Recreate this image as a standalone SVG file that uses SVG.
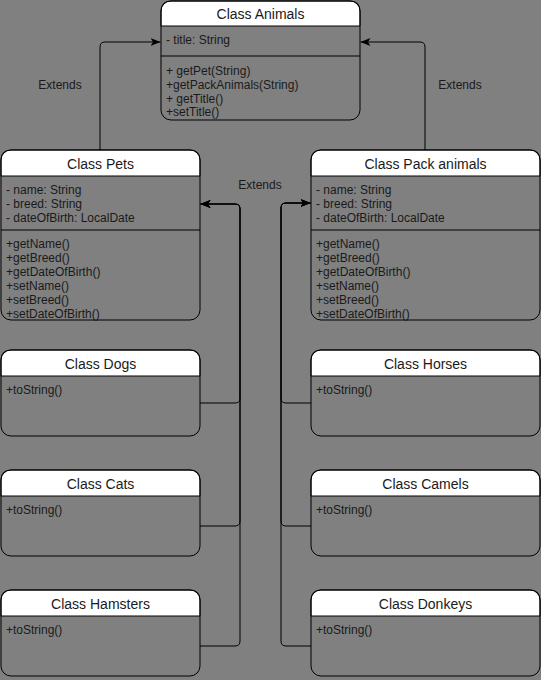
<svg xmlns="http://www.w3.org/2000/svg" width="541" height="680" viewBox="0 0 541 680">
<defs>
<style>
.box{fill:none;stroke:#000;stroke-width:1}
.hdr{fill:#fff;stroke:#000;stroke-width:1}
.sep{stroke:#000;stroke-width:1}
.ttl{font-family:"Liberation Sans",Arial,sans-serif;font-size:14px;fill:#1a1a1a;text-anchor:middle}
.txt{font-family:"Liberation Sans",Arial,sans-serif;font-size:12px;fill:#1a1a1a}
.lbl{font-family:"Liberation Sans",Arial,sans-serif;font-size:12px;fill:#1a1a1a;text-anchor:middle}
.edge{fill:none;stroke:#000;stroke-width:1;marker-end:url(#arr)}
</style>
<marker id="arr" viewBox="0 0 10 8" refX="10" refY="4" markerWidth="10" markerHeight="8" markerUnits="userSpaceOnUse" orient="auto">
<path d="M0,0 L10,4 L0,8 L2.5,4 Z" fill="#000"/>
</marker>
</defs>
<rect x="0" y="0" width="541" height="680" fill="#808080"/>

<g id="edges">
<path class="edge" d="M100,150 L100,47 Q100,42 105,42 L160.5,42"/>
<path class="edge" d="M425,150 L425,47 Q425,42 420,42 L360.5,42"/>
<path class="edge" d="M200,403 L235,403 Q240,403 240,398 L240,209 Q240,204 235,204 L200.5,204"/>
<path class="edge" d="M200,526 L235,526 Q240,526 240,521 L240,209 Q240,204 235,204 L200.5,204"/>
<path class="edge" d="M200,646 L235,646 Q240,646 240,641 L240,209 Q240,204 235,204 L200.5,204"/>
<path class="edge" d="M311,403 L286,403 Q281,403 281,398 L281,208 Q281,203 286,203 L310.5,203"/>
<path class="edge" d="M311,526 L286,526 Q281,526 281,521 L281,208 Q281,203 286,203 L310.5,203"/>
<path class="edge" d="M311,646 L286,646 Q281,646 281,641 L281,208 Q281,203 286,203 L310.5,203"/>
<text class="lbl" x="60" y="89">Extends</text>
<text class="lbl" x="460" y="89">Extends</text>
<text class="lbl" x="260" y="189">Extends</text>
</g>

<g id="animals">
<path class="hdr" d="M161,26 L161,11 Q161,1 171,1 L350,1 Q360,1 360,11 L360,26 Z"/>
<rect class="box" x="161" y="1" width="199" height="119" rx="10"/>
<line class="sep" x1="161" y1="56" x2="360" y2="56"/>
<text class="ttl" x="260.5" y="19">Class Animals</text>
<text class="txt" x="166" y="44">- title: String</text>
<text class="txt" x="166" y="75">+ getPet(String)</text>
<text class="txt" x="166" y="89">+getPackAnimals(String)</text>
<text class="txt" x="166" y="103">+ getTitle()</text>
<text class="txt" x="166" y="116">+setTitle()</text>
</g>

<g id="pets">
<path class="hdr" d="M1,176 L1,160 Q1,150 11,150 L190,150 Q200,150 200,160 L200,176 Z"/>
<rect class="box" x="1" y="150" width="199" height="170" rx="10"/>
<line class="sep" x1="1" y1="230" x2="200" y2="230"/>
<text class="ttl" x="100.5" y="169">Class Pets</text>
<text class="txt" x="6" y="194">- name: String</text>
<text class="txt" x="6" y="208">- breed: String</text>
<text class="txt" x="6" y="222">- dateOfBirth: LocalDate</text>
<text class="txt" x="6" y="248">+getName()</text>
<text class="txt" x="6" y="262">+getBreed()</text>
<text class="txt" x="6" y="276">+getDateOfBirth()</text>
<text class="txt" x="6" y="290">+setName()</text>
<text class="txt" x="6" y="304">+setBreed()</text>
<text class="txt" x="6" y="318">+setDateOfBirth()</text>
</g>

<g id="pack-animals">
<path class="hdr" d="M311,176 L311,160 Q311,150 321,150 L530,150 Q540,150 540,160 L540,176 Z"/>
<rect class="box" x="311" y="150" width="229" height="170" rx="10"/>
<line class="sep" x1="311" y1="230" x2="540" y2="230"/>
<text class="ttl" x="425.5" y="169">Class Pack animals</text>
<text class="txt" x="316" y="194">- name: String</text>
<text class="txt" x="316" y="208">- breed: String</text>
<text class="txt" x="316" y="222">- dateOfBirth: LocalDate</text>
<text class="txt" x="316" y="248">+getName()</text>
<text class="txt" x="316" y="262">+getBreed()</text>
<text class="txt" x="316" y="276">+getDateOfBirth()</text>
<text class="txt" x="316" y="290">+setName()</text>
<text class="txt" x="316" y="304">+setBreed()</text>
<text class="txt" x="316" y="318">+setDateOfBirth()</text>
</g>

<g id="dogs">
<path class="hdr" d="M1,376 L1,360 Q1,350 11,350 L190,350 Q200,350 200,360 L200,376 Z"/>
<rect class="box" x="1" y="350" width="199" height="86" rx="10"/>
<text class="ttl" x="100.5" y="369">Class Dogs</text>
<text class="txt" x="6" y="394">+toString()</text>
</g>

<g id="cats">
<path class="hdr" d="M1,496 L1,480 Q1,470 11,470 L190,470 Q200,470 200,480 L200,496 Z"/>
<rect class="box" x="1" y="470" width="199" height="86" rx="10"/>
<text class="ttl" x="100.5" y="489">Class Cats</text>
<text class="txt" x="6" y="514">+toString()</text>
</g>

<g id="hamsters">
<path class="hdr" d="M1,616 L1,600 Q1,590 11,590 L190,590 Q200,590 200,600 L200,616 Z"/>
<rect class="box" x="1" y="590" width="199" height="86" rx="10"/>
<text class="ttl" x="100.5" y="609">Class Hamsters</text>
<text class="txt" x="6" y="634">+toString()</text>
</g>

<g id="horses">
<path class="hdr" d="M311,376 L311,360 Q311,350 321,350 L530,350 Q540,350 540,360 L540,376 Z"/>
<rect class="box" x="311" y="350" width="229" height="86" rx="10"/>
<text class="ttl" x="425.5" y="369">Class Horses</text>
<text class="txt" x="316" y="394">+toString()</text>
</g>

<g id="camels">
<path class="hdr" d="M311,496 L311,480 Q311,470 321,470 L530,470 Q540,470 540,480 L540,496 Z"/>
<rect class="box" x="311" y="470" width="229" height="86" rx="10"/>
<text class="ttl" x="425.5" y="489">Class Camels</text>
<text class="txt" x="316" y="514">+toString()</text>
</g>

<g id="donkeys">
<path class="hdr" d="M311,616 L311,600 Q311,590 321,590 L530,590 Q540,590 540,600 L540,616 Z"/>
<rect class="box" x="311" y="590" width="229" height="86" rx="10"/>
<text class="ttl" x="425.5" y="609">Class Donkeys</text>
<text class="txt" x="316" y="634">+toString()</text>
</g>
</svg>
